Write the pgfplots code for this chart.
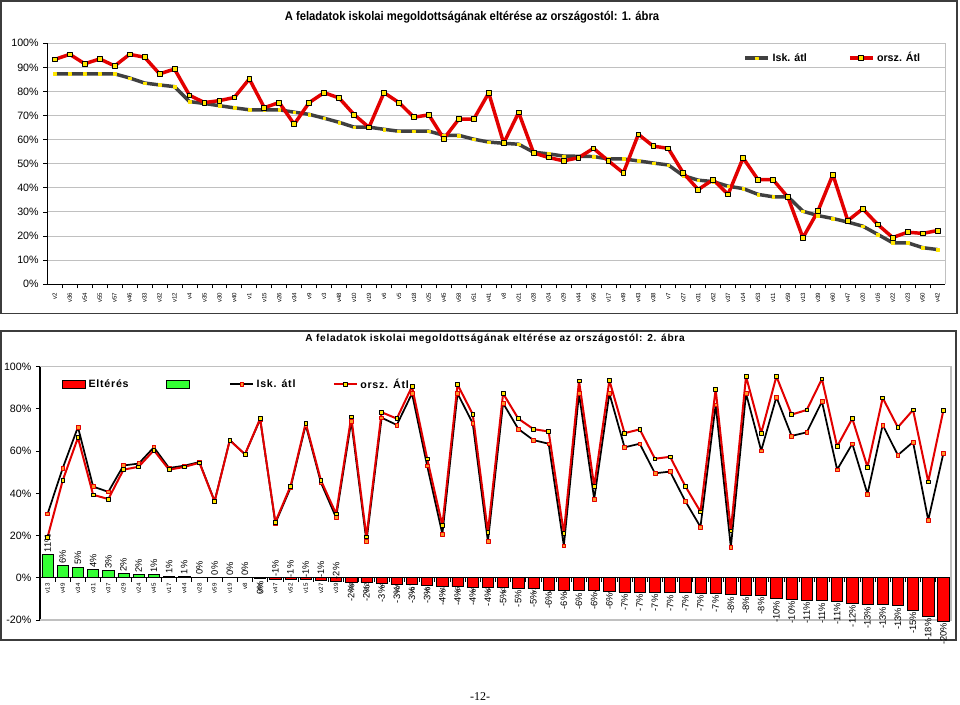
\documentclass[border=0pt]{standalone}
\usepackage{fontspec}
\setmainfont{Liberation Sans}
\newfontfamily\narrowf[FakeStretch=0.9]{Liberation Sans}
\newfontfamily\spacedf[LetterSpace=7]{Liberation Sans}
\newfontfamily\serf{Liberation Serif}
\usepackage{pgfplots}
\usepackage{pgfplotstable}
\pgfplotsset{compat=1.18}
\definecolor{iskc}{RGB}{64,64,64}
\definecolor{orszc}{RGB}{226,0,0}
\definecolor{yel}{RGB}{255,230,0}
\definecolor{grn}{RGB}{51,255,51}
\definecolor{gridc}{RGB}{192,192,192}
\definecolor{orng}{RGB}{255,150,40}
\definecolor{bordc}{RGB}{60,60,60}

\pgfplotstableread{
x name isk orsz
1 v2 87.3 93.3
2 v36 87.3 95.4
3 v54 87.3 91.5
4 v55 87.3 93.5
5 v57 87.3 90.6
6 v46 85.6 95.4
7 v33 83.5 94.2
8 v32 82.7 87.3
9 v12 82.0 89.3
10 v4 75.8 78.4
11 v35 75.0 75.4
12 v30 74.1 76.2
13 v40 73.2 77.5
14 v1 72.4 85.2
15 v15 72.4 73.3
16 v26 72.4 75.4
17 v34 71.4 66.4
18 v9 70.5 75.4
19 v3 68.9 79.5
20 v48 67.2 77.3
21 v10 65.2 70.4
22 v19 65.2 65.1
23 v6 64.3 79.5
24 v5 63.5 75.4
25 v18 63.5 69.3
26 v25 63.5 70.3
27 v45 61.8 60.4
28 v58 61.8 68.5
29 v51 60.2 68.5
30 v41 59.0 79.4
31 v8 58.5 58.5
32 v21 58.1 71.3
33 v28 54.8 54.5
34 v24 54.1 52.6
35 v29 53.2 51.2
36 v44 53.1 52.5
37 v56 53.0 56.4
38 v17 52.0 51.2
39 v49 52.0 46.2
40 v43 51.2 62.2
41 v38 50.3 57.3
42 v7 49.5 56.4
43 v27 45.1 46.2
44 v31 43.2 39.3
45 v52 42.6 43.4
46 v37 40.7 37.3
47 v14 39.7 52.4
48 v53 37.3 43.4
49 v11 36.3 43.4
50 v59 36.3 36.1
51 v13 30.3 19.3
52 v39 28.5 30.3
53 v60 27.3 45.5
54 v47 25.8 26.4
55 v20 24.1 31.3
56 v16 20.7 24.8
57 v22 17.2 19.4
58 v23 17.2 21.6
59 v50 15.2 21.1
60 v42 14.4 22.3
}\tA

\pgfplotstableread{
x name isk orsz d lab
1 v13 30.3 19.3 11.0 11
2 v49 52.0 46.2 5.8 6
3 v34 71.4 66.4 5.0 5
4 v31 43.2 39.3 3.9 4
5 v37 40.7 37.3 3.4 3
6 v29 53.2 51.2 2.0 2
7 v24 54.1 52.6 1.5 2
8 v45 61.8 60.4 1.4 1
9 v17 52.0 51.2 0.8 1
10 v44 53.1 52.5 0.6 1
11 v28 54.8 54.5 0.3 0
12 v59 36.3 36.1 0.2 0
13 v19 65.2 65.1 0.1 0
14 v8 58.5 58.5 0.0 0
15 v35 75.0 75.4 -0.4 0
16 v47 25.8 26.4 -0.6 -1
17 v52 42.6 43.4 -0.8 -1
18 v15 72.4 73.3 -0.9 -1
19 v27 45.1 46.2 -1.1 -1
20 v39 28.5 30.3 -1.8 -2
21 v30 74.1 76.2 -2.1 -2
22 v22 17.2 19.4 -2.2 -2
23 v4 75.8 78.4 -2.6 -3
24 v26 72.4 75.4 -3.0 -3
25 v57 87.3 90.6 -3.3 -3
26 v56 53.0 56.4 -3.4 -3
27 v16 20.7 24.8 -4.1 -4
28 v54 87.3 91.5 -4.2 -4
29 v40 73.2 77.5 -4.3 -4
30 v23 17.2 21.6 -4.4 -4
31 v32 82.7 87.3 -4.6 -5
32 v9 70.5 75.4 -4.9 -5
33 v10 65.2 70.4 -5.2 -5
34 v18 63.5 69.3 -5.8 -6
35 v50 15.2 21.1 -5.9 -6
36 v2 87.3 93.3 -6.0 -6
37 v53 37.3 43.4 -6.1 -6
38 v55 87.3 93.5 -6.2 -6
39 v58 61.8 68.5 -6.7 -7
40 v25 63.5 70.3 -6.8 -7
41 v7 49.5 56.4 -6.9 -7
42 v38 50.3 57.3 -7.0 -7
43 v11 36.3 43.4 -7.1 -7
44 v20 24.1 31.3 -7.2 -7
45 v12 82.0 89.3 -7.3 -7
46 v42 14.4 22.3 -7.9 -8
47 v36 87.3 95.4 -8.1 -8
48 v51 60.2 68.5 -8.3 -8
49 v46 85.6 95.4 -9.8 -10
50 v48 67.2 77.3 -10.1 -10
51 v3 68.9 79.5 -10.6 -11
52 v33 83.5 94.2 -10.7 -11
53 v43 51.2 62.2 -11.0 -11
54 v5 63.5 75.4 -11.9 -12
55 v14 39.7 52.4 -12.7 -13
56 v1 72.4 85.2 -12.8 -13
57 v21 58.1 71.3 -13.2 -13
58 v6 64.3 79.5 -15.2 -15
59 v60 27.3 45.5 -18.2 -18
60 v41 59.0 79.4 -20.4 -20
}\tB

\begin{document}
\begin{tikzpicture}
\path[use as bounding box] (0pt,0pt) rectangle (720pt,528pt);
% chart frames
\draw[bordc, line width=1.2pt] (0.9pt,527.1pt) rectangle (717.6pt,293pt);
\draw[bordc, line width=1.2pt] (0.9pt,279.75pt) rectangle (717pt,48pt);
% titles
\node[font=\narrowf\bfseries\fontsize{9.4}{10}\selectfont] at (354pt,515.25pt) {A feladatok iskolai megoldottságának eltérése az országostól: 1. ábra};
\node[font=\spacedf\bfseries\fontsize{7.6}{9}\selectfont] at (371.25pt,273.75pt) {A feladatok iskolai megoldottságának eltérése az országostól: 2. ábra};
\node[font=\serf\fontsize{9}{10}\selectfont] at (360pt,5.5pt) {-12-};

% ---------- chart 1 ----------
\begin{axis}[
  at={(35.5pt,314.8pt)}, anchor=south west, scale only axis,
  width=673.3pt, height=180.75pt,
  xmin=0.5, xmax=60.5, ymin=0, ymax=100,
  axis lines*=left, axis line style={black, line width=0.8pt},
  ytick={0,10,20,30,40,50,60,70,80,90,100},
  yticklabels={0\%,10\%,20\%,30\%,40\%,50\%,60\%,70\%,80\%,90\%,100\%},
  yticklabel style={font=\fontsize{8}{9}\selectfont},
  ymajorgrids, grid style={gridc, line width=0.8pt},
  xtick={1,...,60}, xticklabels from table={\tA}{name},
  xticklabel style={rotate=90, anchor=east, font=\fontsize{4.6}{5}\selectfont},
  tick align=outside, major tick length=3pt, minor tick length=3pt,
  major x tick style={draw=none}, minor x tick num=1,
  tick style={black, line width=0.6pt},
  legend style={draw=none, fill=none, at={(0.771,0.985)}, anchor=north west,
    font=\bfseries\fontsize{8}{9}\selectfont, legend columns=2,
    /tikz/every even column/.append style={column sep=29pt}},
  clip=false,
]
\draw[gridc, line width=0.8pt] (rel axis cs:1,0) -- (rel axis cs:1,1);
\addplot[iskc, line width=2.6pt, line join=round, mark=square*, mark size=1pt,
  mark options={fill=yel, draw=yel, line width=0.2pt}] table[x=x, y=isk] {\tA};
\addlegendentry{Isk. átl}
\addplot[orszc, line width=2.6pt, line join=round, mark=square*, mark size=1.8pt,
  mark options={fill=yel, draw=black, line width=0.6pt}] table[x=x, y=orsz] {\tA};
\addlegendentry{orsz. Átl}
\end{axis}

% ---------- chart 2 ----------
\begin{axis}[
  at={(30pt,63pt)}, anchor=south west, scale only axis,
  width=683.25pt, height=190pt,
  xmin=0.5, xmax=60.5, ymin=-20, ymax=100,
  axis x line*=middle, axis y line*=left,
  axis line style={black, line width=0.8pt},
  ytick={-20,0,20,40,60,80,100},
  yticklabels={-20\%,0\%,20\%,40\%,60\%,80\%,100\%},
  yticklabel style={font=\fontsize{8}{9}\selectfont},
  xtick={1,...,60}, xticklabels from table={\tB}{name},
  xticklabel style={rotate=90, anchor=east, font=\fontsize{4.6}{5}\selectfont, inner sep=1pt},
  tick align=outside, major tick length=3pt, minor tick length=3pt,
  major x tick style={draw=none}, minor x tick num=1,
  tick style={black, line width=0.6pt},
  legend style={draw=none, fill=none, at={(0.02,0.975)}, anchor=north west,
    font=\spacedf\bfseries\fontsize{8}{9}\selectfont, legend columns=4,
    /tikz/every even column/.append style={column sep=26pt}},
  clip=false,
]
\draw[gridc, line width=0.8pt] (rel axis cs:0,1) -- (rel axis cs:1,1) -- (rel axis cs:1,0) -- (rel axis cs:0,0);
\addplot[ybar, bar width=8.4pt, bar shift=0pt, fill=red, draw=black, line width=0.5pt,
  area legend, restrict x to domain=21:60,
  point meta=explicit symbolic, nodes near coords={\pgfplotspointmeta\%},
  every node near coord/.append style={rotate=90, anchor=east, black, inner sep=1.5pt,
    font=\fontsize{7}{8}\selectfont}]
  table[x=x, y=d, meta=lab] {\tB};
\addlegendentry{Eltérés}
\addplot[ybar, bar width=8.4pt, bar shift=0pt, fill=grn, draw=black, line width=0.5pt,
  area legend, restrict x to domain=1:14,
  point meta=explicit symbolic, nodes near coords={\pgfplotspointmeta\%},
  every node near coord/.append style={rotate=90, anchor=west, black, inner sep=1.5pt,
    font=\fontsize{7}{8}\selectfont}]
  table[x=x, y=d, meta=lab] {\tB};
\addlegendentry{~}
\addplot[ybar, bar width=8.4pt, bar shift=0pt, fill=red, draw=black, line width=0.5pt,
  forget plot, restrict x to domain=15:15,
  point meta=explicit symbolic, nodes near coords={\pgfplotspointmeta\%},
  every node near coord/.append style={rotate=90, anchor=east, black, inner sep=1.5pt,
    font=\fontsize{7}{8}\selectfont}]
  table[x=x, y=d, meta=lab] {\tB};
\addplot[ybar, bar width=8.4pt, bar shift=0pt, fill=red, draw=black, line width=0.5pt,
  forget plot, restrict x to domain=16:20,
  point meta=explicit symbolic, nodes near coords={\pgfplotspointmeta\%},
  every node near coord/.append style={rotate=90, anchor=west, black, inner sep=1.5pt,
    font=\fontsize{7}{8}\selectfont}]
  table[x=x, y=d, meta=lab] {\tB};
\addplot[black, line width=1.3pt, line join=round, mark=square*, mark size=1.4pt,
  mark options={fill=orng, draw=orszc, line width=0.4pt}] table[x=x, y=isk] {\tB};
\addlegendentry{Isk. átl}
\addplot[orszc, line width=1.5pt, line join=round, mark=square*, mark size=1.4pt,
  mark options={fill=yel, draw=black, line width=0.5pt}] table[x=x, y=orsz] {\tB};
\addlegendentry{orsz. Átl}
\end{axis}
\end{tikzpicture}
\end{document}
